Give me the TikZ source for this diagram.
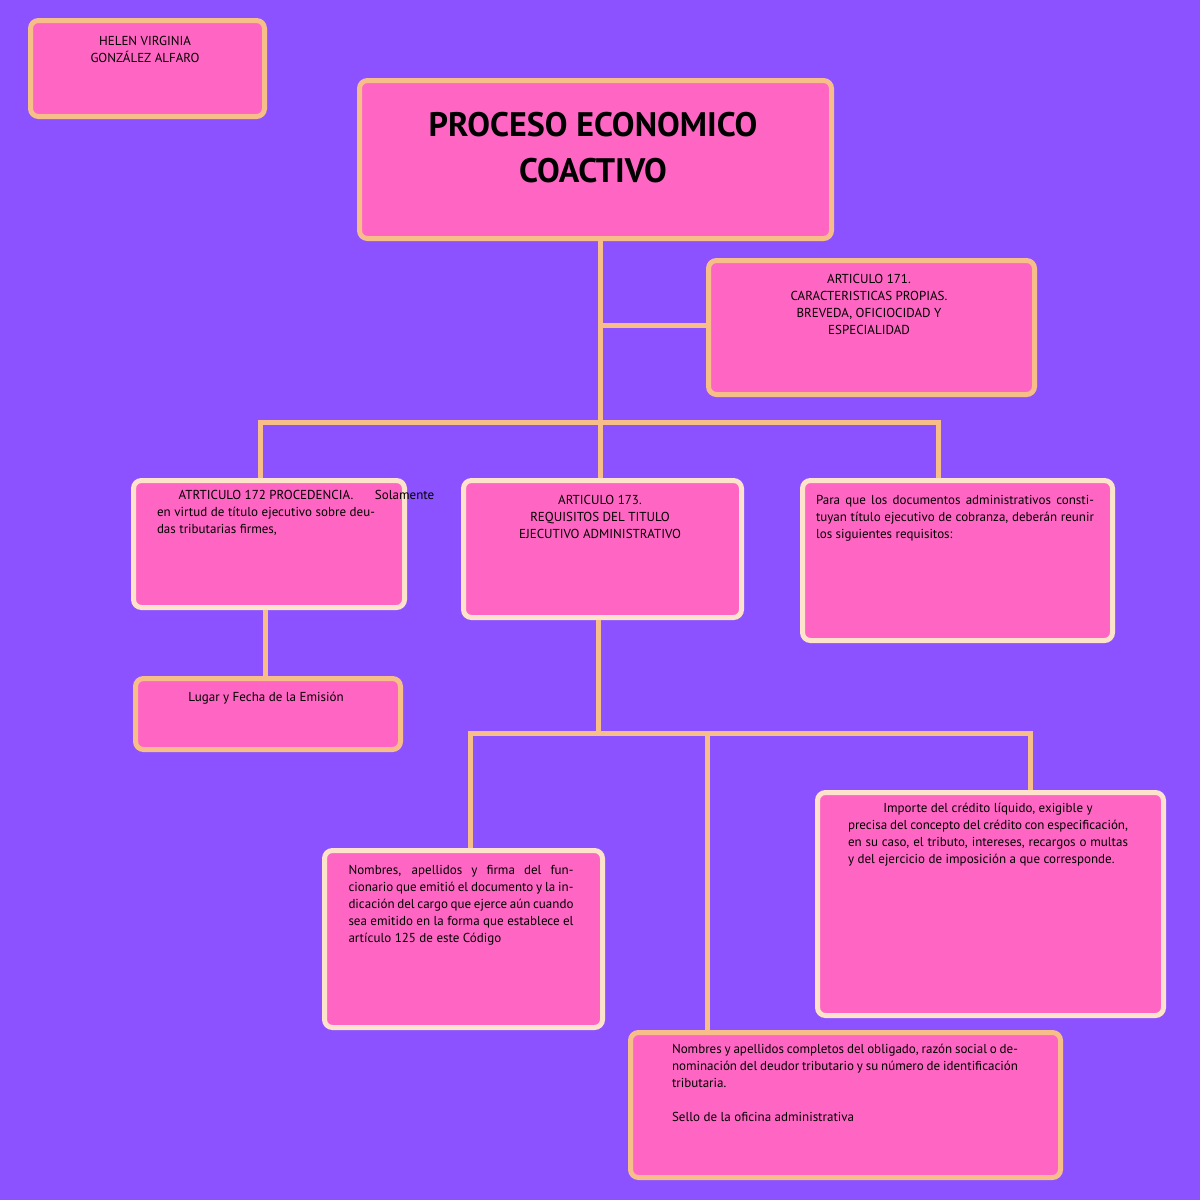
\documentclass[tikz,border=0pt]{standalone}
\usepackage{fontspec}
\setmainfont{PT Sans}
\usetikzlibrary{positioning}
\definecolor{bgviolet}{HTML}{8C52FF}
\definecolor{boxpink}{HTML}{FF66C4}
\definecolor{linepeach}{HTML}{F7BE8A}
\definecolor{lightpeach}{HTML}{FDE3CC}
\tikzstyle{box} = [rectangle, rounded corners=8pt, draw=linepeach, line width=5pt, fill=boxpink, inner sep=0pt, anchor=north west]
\tikzstyle{lightbox} = [box, draw=lightpeach]
\tikzstyle{txt} = [anchor=north, inner sep=0pt, font=\fontsize{13}{17}\selectfont]
\tikzstyle{link} = [linepeach, line width=5pt]
\begin{document}
\begin{tikzpicture}[x=1pt, y=-1pt]
        \fill[bgviolet] (0,0) rectangle (1200,1200);
        \useasboundingbox (0,0) rectangle (1200,1200);

        \node (autor) [box, minimum width=234pt, minimum height=96pt] at (28,18) {};
        \node [txt, align=center] at (145,36) {HELEN VIRGINIA\\GONZÁLEZ ALFARO};
        \node (titulo) [box, minimum width=472pt, minimum height=158pt] at (357,78) {};
        \node [txt, align=center, font=\fontsize{34}{46}\selectfont\bfseries] at (593,112) {PROCESO ECONOMICO\\COACTIVO};
        \node (art171) [box, minimum width=326pt, minimum height=134pt] at (706,258) {};
        \node [txt, align=center] at (869,274) {ARTICULO 171.\\CARACTERISTICAS PROPIAS.\\BREVEDA, OFICIOCIDAD Y\\ESPECIALIDAD};
        \node (art172) [lightbox, minimum width=271pt, minimum height=127pt] at (131,478) {};
        \node [txt, text width=218pt, align=justify] at (266,490) {\centerline{ATRTICULO 172 PROCEDENCIA.}Solamente en virtud de título ejecutivo sobre deudas tributarias firmes,};
        \node (art173) [lightbox, minimum width=278pt, minimum height=137pt] at (461,478) {};
        \node [txt, align=center] at (600,495) {ARTICULO 173.\\REQUISITOS DEL TITULO\\EJECUTIVO ADMINISTRATIVO};
        \node (para) [lightbox, minimum width=310pt, minimum height=160pt] at (800,478) {};
        \node [txt, text width=278pt, align=justify] at (955,495) {Para que los documentos administrativos constituyan título ejecutivo de cobranza, deberán reunir los siguientes requisitos:};
        \node (lugar) [box, minimum width=265pt, minimum height=71pt] at (133,676) {};
        \node [txt] at (266,692) {Lugar y Fecha de la Emisión};
        \node (firma) [lightbox, minimum width=278pt, minimum height=177pt] at (322,848) {};
        \node [txt, text width=225pt, align=justify] at (461,865) {Nombres, apellidos y firma del funcionario que emitió el documento y la indicación del cargo que ejerce aún cuando sea emitido en la forma que establece el artículo 125 de este Código};
        \node (importe) [lightbox, minimum width=346pt, minimum height=223pt] at (815,790) {};
        \node [txt, text width=280pt, align=justify] at (988,803) {\centerline{Importe del crédito líquido, exigible y}\centerline{de plazo vencido.}\centerline{Domicilio fiscal.}Indicación precisa del concepto del crédito con especificación, en su caso, el tributo, intereses, recargos o multas y del ejercicio de imposición a que corresponde.};
        \node (obligado) [box, minimum width=430pt, minimum height=145pt] at (628,1030) {};
        \node [txt, text width=346pt, align=justify] at (845,1044) {Nombres y apellidos completos del obligado, razón social o denominación del deudor tributario y su número de identificación tributaria.\par\vspace{17pt}Sello de la oficina administrativa};

        % conectores
        \coordinate (busA) at (600,422);
        \coordinate (busB) at (598,733);
        \draw [link] (titulo.south -| busA) -- (busA);
        \draw [link] (600,325) -- (art171.west |- 0,325);
        \draw [link] (260,478) |- (busA) -| (938,478);
        \draw [link] (busA) -- (art173.north -| busA);
        \draw [link] (art172.south -| 265,0) -- (lugar.north -| 265,0);
        \draw [link] (art173.south -| busB) -- (busB);
        \draw [link] (firma.north -| 470,0) |- (busB) -| (importe.north -| 1030,0);
        \draw [link] (707,733) -- (obligado.north -| 707,0);
\end{tikzpicture}
\end{document}
